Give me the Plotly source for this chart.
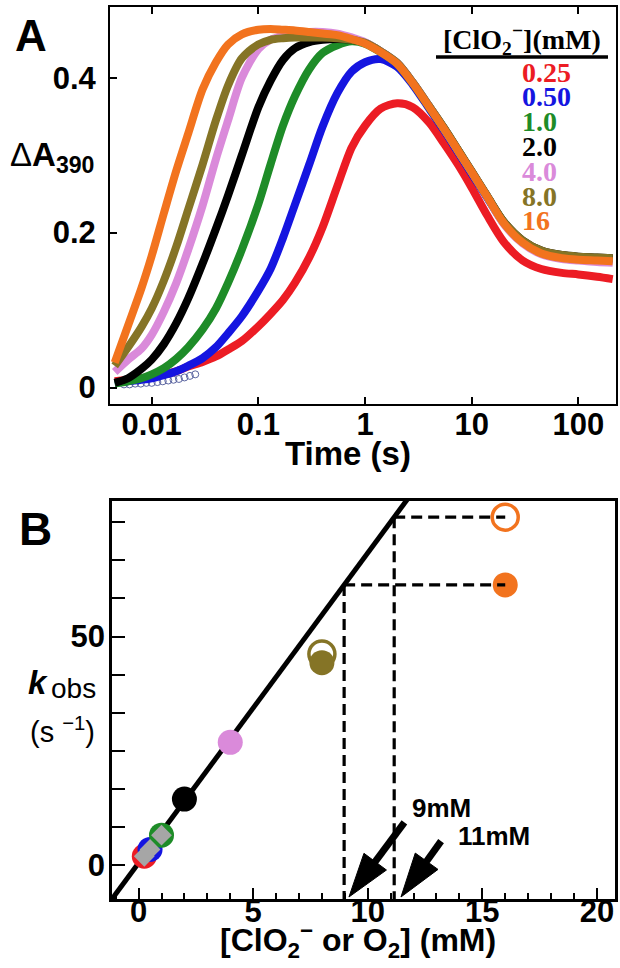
import numpy as np
import plotly.graph_objects as go

# ---------------- Panel A data ----------------
time_s = [0.0045, 0.006, 0.008, 0.01, 0.013, 0.017, 0.022, 0.03, 0.04, 0.052,
          0.07, 0.1, 0.13, 0.17, 0.22, 0.3, 0.4, 0.55, 0.75, 1.0,
          1.4, 2.0, 2.8, 4.0, 5.5, 7.5, 10, 14, 20, 30,
          45, 70, 100, 150, 210]

dA_025 = [0.008, 0.010, 0.012, 0.014, 0.017, 0.021, 0.027, 0.033, 0.040, 0.049,
          0.060, 0.079, 0.095, 0.113, 0.135, 0.168, 0.207, 0.260, 0.310, 0.338,
          0.360, 0.367, 0.362, 0.342, 0.315, 0.287, 0.258, 0.222, 0.188, 0.164,
          0.153, 0.148, 0.146, 0.143, 0.140]
dA_050 = [0.006, 0.008, 0.010, 0.012, 0.016, 0.021, 0.028, 0.038, 0.052, 0.070,
          0.092, 0.125, 0.153, 0.193, 0.236, 0.288, 0.337, 0.380, 0.408, 0.420,
          0.424, 0.414, 0.391, 0.360, 0.332, 0.303, 0.276, 0.245, 0.212, 0.188,
          0.175, 0.169, 0.167, 0.166, 0.165]
dA_10 = [0.005, 0.008, 0.012, 0.017, 0.025, 0.037, 0.052, 0.075, 0.102, 0.135,
         0.178, 0.237, 0.288, 0.338, 0.376, 0.411, 0.432, 0.442, 0.447, 0.444,
         0.433, 0.418, 0.393, 0.362, 0.334, 0.305, 0.278, 0.246, 0.213, 0.188,
         0.175, 0.170, 0.168, 0.167, 0.166]
dA_20 = [0.006, 0.012, 0.024, 0.036, 0.056, 0.083, 0.115, 0.160, 0.205, 0.248,
         0.300, 0.362, 0.396, 0.423, 0.438, 0.446, 0.449, 0.450, 0.449, 0.445,
         0.434, 0.419, 0.394, 0.363, 0.335, 0.306, 0.279, 0.247, 0.214, 0.190,
         0.177, 0.171, 0.169, 0.168, 0.167]
dA_40 = [0.020, 0.036, 0.050, 0.068, 0.098, 0.135, 0.178, 0.235, 0.295, 0.345,
         0.400, 0.437, 0.449, 0.454, 0.457, 0.459, 0.459, 0.457, 0.452, 0.446,
         0.434, 0.419, 0.394, 0.363, 0.334, 0.305, 0.278, 0.246, 0.211, 0.186,
         0.172, 0.166, 0.164, 0.162, 0.161]
dA_80 = [0.028, 0.052, 0.078, 0.102, 0.138, 0.182, 0.230, 0.288, 0.345, 0.390,
         0.425, 0.443, 0.449, 0.451, 0.452, 0.452, 0.452, 0.451, 0.449, 0.445,
         0.434, 0.419, 0.394, 0.363, 0.335, 0.306, 0.279, 0.247, 0.214, 0.190,
         0.177, 0.171, 0.169, 0.168, 0.167]
dA_16 = [0.032, 0.080, 0.128, 0.170, 0.225, 0.280, 0.328, 0.385, 0.420, 0.443,
         0.456, 0.462, 0.463, 0.462, 0.461, 0.459, 0.457, 0.455, 0.450, 0.444,
         0.433, 0.418, 0.393, 0.362, 0.334, 0.305, 0.278, 0.246, 0.212, 0.187,
         0.173, 0.167, 0.165, 0.164, 0.163]

# early raw data points (open circles) visible near the baseline
early_t = [0.0055, 0.0062, 0.007, 0.0079, 0.0089, 0.01, 0.0113, 0.0127, 0.0143,
           0.016, 0.018, 0.0203, 0.0228, 0.0256]
early_A = [0.004, 0.004, 0.005, 0.005, 0.006, 0.006, 0.007, 0.008, 0.009,
           0.010, 0.011, 0.013, 0.015, 0.017]

legend_labels = ["0.25", "0.50", "1.0", "2.0", "4.0", "8.0", "16"]
colors = ["#EC1C24", "#1515E0", "#1E8C28", "#000000", "#DA8ADA", "#857426", "#F2731E"]
curves = [dA_025, dA_050, dA_10, dA_20, dA_40, dA_80, dA_16]

# ---------------- Panel B data ----------------
conc_mM = [0.25, 0.5, 1.0, 2.0, 4.0, 8.0, 16.0]
kobs_fit_pts = [2.0, 3.5, 6.6, 14.5, 26.9, 44.3, 61.3]
open_conc = [8.0, 16.0]
open_kobs = [46.2, 76.1]
open_colors = ["#857426", "#F2731E"]
o2_mM = [0.25, 0.5, 1.0]
o2_kobs = [2.0, 3.5, 6.6]
fit_slope = 6.776
fit_intercept = 0.52
arrow_labels = ["9mM", "11mM"]

W, H = 620, 968
def fx(p):
    return p / W
def fy(p):
    return 1 - p / H

FONT = "Liberation Sans"
SERIF = "Liberation Serif"

fig = go.Figure()

# ---- Panel A traces ----
fig.add_trace(go.Scatter(x=early_t, y=early_A, mode="markers",
                         marker=dict(symbol="circle-open", size=7, color="#5a64a0", line=dict(width=1)),
                         xaxis="x", yaxis="y", showlegend=False))
for vals, col in zip(curves, colors):
    fig.add_trace(go.Scatter(x=time_s, y=vals, mode="lines",
                             line=dict(color=col, width=8, shape="spline", smoothing=0.8),
                             xaxis="x", yaxis="y", showlegend=False))

# ---- Panel B traces ----
xa2 = [-1.16, 20.79]
ya2 = [-7.34, 79.63]
xl = np.array([xa2[0] - 0.5, 13.0])
fig.add_trace(go.Scatter(x=xl, y=fit_slope * xl + fit_intercept, mode="lines",
                         line=dict(color="black", width=5), xaxis="x2", yaxis="y2", showlegend=False))
fig.add_trace(go.Scatter(x=open_conc, y=open_kobs, mode="markers",
                         marker=dict(symbol="circle-open", size=26, color=open_colors, line=dict(width=3.5)),
                         xaxis="x2", yaxis="y2", showlegend=False, cliponaxis=False))
fig.add_trace(go.Scatter(x=conc_mM, y=kobs_fit_pts, mode="markers",
                         marker=dict(symbol="circle", size=25, color=colors, line=dict(width=0)),
                         xaxis="x2", yaxis="y2", showlegend=False))
fig.add_trace(go.Scatter(x=o2_mM, y=o2_kobs, mode="markers",
                         marker=dict(symbol="diamond", size=16, color="#A6A6A6", line=dict(width=0)),
                         xaxis="x2", yaxis="y2", showlegend=False))

# dashed construction lines from the two 16 mM points to the fit line
for k in [kobs_fit_pts[-1], open_kobs[-1]]:
    xi = (k - fit_intercept) / fit_slope
    fig.add_trace(go.Scatter(x=[xi, conc_mM[-1]], y=[k, k], mode="lines",
                             line=dict(color="black", width=3.2, dash="11px,6px"),
                             xaxis="x2", yaxis="y2", showlegend=False))
    fig.add_trace(go.Scatter(x=[xi, xi], y=[k, ya2[0]], mode="lines",
                             line=dict(color="black", width=3.2, dash="11px,6px"),
                             xaxis="x2", yaxis="y2", showlegend=False))

# ---- axes ----
tickfontA = dict(family=FONT, size=31, color="black", weight="bold")
common = dict(showgrid=False, zeroline=False, showline=True, linecolor="black",
              ticks="inside", tickcolor="black")
layout = dict(
    width=W, height=H, margin=dict(l=0, r=0, t=0, b=0),
    paper_bgcolor="white", plot_bgcolor="white", showlegend=False,
    xaxis=dict(common, domain=[fx(110), fx(616)], type="log", range=[-2.391, 2.353],
               tickvals=[0.01, 0.1, 1, 10, 100], ticktext=["0.01", "0.1", "1", "10", "100"],
               ticklen=7, tickwidth=2, linewidth=2, mirror="ticks", tickfont=tickfontA,
               anchor="y", ticklabelstandoff=-8),
    yaxis=dict(common, domain=[fy(404), fy(7)], range=[-0.0213, 0.4913],
               tickvals=[0, 0.2, 0.4], ticktext=["0", "0.2", "0.4"],
               ticklen=7, tickwidth=2, linewidth=2, mirror=True, tickfont=tickfontA,
               anchor="x", ticklabelstandoff=6),
    xaxis2=dict(common, domain=[fx(112), fx(615)], range=xa2,
                tickvals=[0, 5, 10, 15, 20], ticktext=["0", "5", "10", "15", "20"],
                ticklen=11, tickwidth=2, linewidth=2.5, mirror=True, tickfont=tickfontA,
                minor=dict(tick0=0, dtick=1, ticklen=6, tickwidth=2, ticks="inside", tickcolor="black"),
                anchor="y2", ticklabelstandoff=-17),
    yaxis2=dict(common, domain=[fy(899), fy(501)], range=ya2,
                tickvals=[0, 50], ticktext=["0", "50"],
                ticklen=13, tickwidth=2, linewidth=2.5, mirror=True, tickfont=tickfontA,
                minor=dict(tick0=0, dtick=50 / 6, ticklen=13, tickwidth=2, ticks="inside", tickcolor="black"),
                anchor="x2", ticklabelstandoff=-2),
)
fig.update_layout(**layout)

ann = []
def add_text(text, x, y, size, family=FONT, color="black", xanchor="center", bold=True, italic=False):
    f = dict(family=family, size=size, color=color)
    if bold:
        f["weight"] = "bold"
    if italic:
        f["style"] = "italic"
    ann.append(dict(text=text, x=fx(x), y=fy(y), xref="paper", yref="paper",
                    showarrow=False, xanchor=xanchor, yanchor="middle", font=f))

# Panel A texts
add_text("A", 31, 36, 44)
add_text("Δ<b>A</b><sub><b>390</b></sub>", 8, 157, 33, xanchor="left", bold=False)
add_text("Time (s)", 348, 453, 33)
add_text("[ClO<sub>2</sub><sup>−</sup>](mM)", 522, 40, 28, family=SERIF)
legend_y = [73, 97, 122, 147, 171, 196, 220]
for lab, col, yy in zip(legend_labels, colors, legend_y):
    add_text(lab, 520, yy, 28, family=SERIF, color=col, xanchor="left")

# Panel B texts
add_text("B", 35, 529, 46)
add_text("k", 38, 682, 33, italic=True)
add_text("obs", 73, 688, 28, bold=False)
add_text("(s <sup>−1</sup>)", 62, 730, 29, bold=False)
add_text("[ClO<sub>2</sub><sup>−</sup> or O<sub>2</sub>] (mM)", 358, 940, 32)
add_text(arrow_labels[0], 441, 808, 26)
add_text(arrow_labels[1], 494, 836, 26)
fig.update_layout(annotations=ann)

# Legend underline
shapes = [dict(type="line", xref="paper", yref="paper", x0=fx(436), x1=fx(608),
               y0=fy(57), y1=fy(57), line=dict(color="black", width=3.5))]

# Arrows (tail -> tip, in data units of panel B)
sx = (615 - 112) / (xa2[1] - xa2[0])
sy = (899 - 501) / (ya2[1] - ya2[0])
arrows = [((11.6, 9.4), (9.18, -6.9)), ((13.2, 5.3), (11.45, -6.9))]
head_len, head_half = 44, 14
for (tx, ty), (hx, hy) in arrows:
    dx, dy = (hx - tx) * sx, (hy - ty) * sy
    L = np.hypot(dx, dy)
    ux, uy = dx / L, dy / L
    bx, by = hx - ux * head_len / sx, hy - uy * head_len / sy
    nx, ny = -uy, ux
    c1 = (bx + nx * head_half / sx, by + ny * head_half / sy)
    c2 = (bx - nx * head_half / sx, by - ny * head_half / sy)
    shapes.append(dict(type="line", xref="x2", yref="y2", x0=tx, y0=ty,
                       x1=bx + ux * 4 / sx, y1=by + uy * 4 / sy,
                       line=dict(color="black", width=7)))
    shapes.append(dict(type="path", xref="x2", yref="y2",
                       path=f"M{hx},{hy} L{c1[0]},{c1[1]} L{c2[0]},{c2[1]} Z",
                       fillcolor="black", line=dict(color="black", width=1)))
fig.update_layout(shapes=shapes)

fig.write_html("out.html", config={"displayModeBar": False},
               post_script="document.body.style.margin='0px';document.body.style.overflow='hidden';")
